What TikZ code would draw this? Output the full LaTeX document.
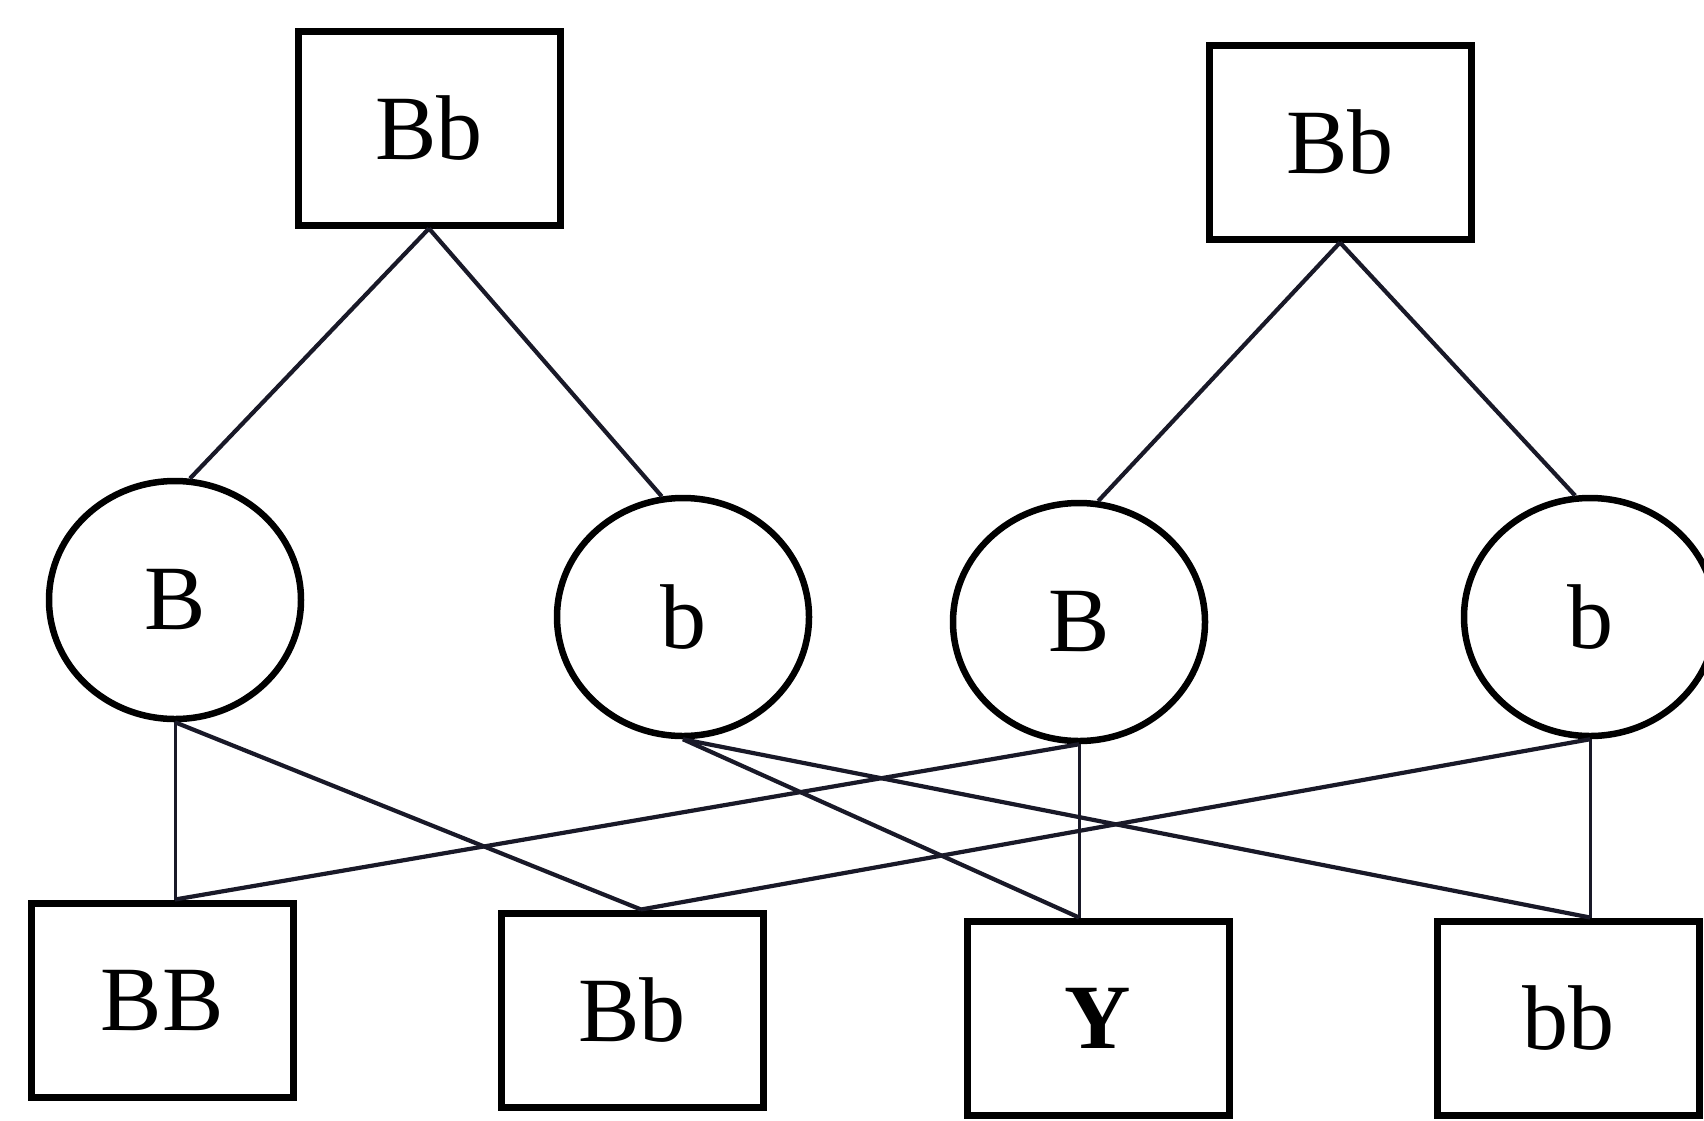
\documentclass[tikz,border=0pt]{standalone}
\usepackage{fontspec}
\setmainfont{Liberation Serif}
\usetikzlibrary{shapes.geometric,calc}
\definecolor{ink}{RGB}{25,25,40}
\begin{document}
\begin{tikzpicture}[x=1pt,y=-1pt,
  box/.style={draw=black,line width=7pt,minimum width=262pt,minimum height=194pt,inner sep=0pt,font=\fontsize{92}{100}\selectfont},
  gam/.style={ellipse,draw=black,line width=6.5pt,minimum width=252pt,minimum height=238pt,inner sep=0pt,font=\fontsize{92}{100}\selectfont},
  link/.style={draw=ink,line width=4.2pt},
  vlink/.style={draw=ink,line width=3pt}]
\clip (0,0) rectangle (1704,1120);
\fill[white] (0,0) rectangle (1704,1120);
% parents
\node[box] (P1) at (429,128) {Bb};
\node[box] (P2) at (1340,142) {Bb};
% gametes
\node[gam] (B1) at (175,600) {B};
\node[gam] (b1) at (683,617) {b};
\node[gam] (B2) at (1079,622) {B};
\node[gam] (b2) at (1590,617) {b};
% offspring
\node[box] (BB) at (162,1000) {BB};
\node[box] (Bb) at (632,1010) {Bb};
\node[box] (Y) at (1098,1018) {\textbf{Y}};
\node[box] (bb) at (1568,1018) {bb};
% top connectors
\draw[link] (P1.south) -- (B1.83);
\draw[link] (P1.south) -- (b1.100);
\draw[link] (P2.south) -- (B2.81);
\draw[link] (P2.south) -- (b2.97);
% bottom connectors
\coordinate (BBt) at (B1.south |- BB.north);
\coordinate (Ybt) at (B2.south |- Y.north);
\coordinate (bbt) at (b2.south |- bb.north);
\coordinate (Bbt) at ($(Bb.north)+(9,0)$);
\draw[vlink] (B1.south) -- (BBt);
\draw[link] (B1.south) -- (Bbt);
\draw[link] (b1.south) -- (Ybt);
\draw[link] (b1.south) -- (bbt);
\draw[link] (B2.south) -- (BBt);
\draw[vlink] (B2.south) -- (Ybt);
\draw[link] (b2.south) -- (Bbt);
\draw[vlink] (b2.south) -- (bbt);
\end{tikzpicture}
\end{document}
